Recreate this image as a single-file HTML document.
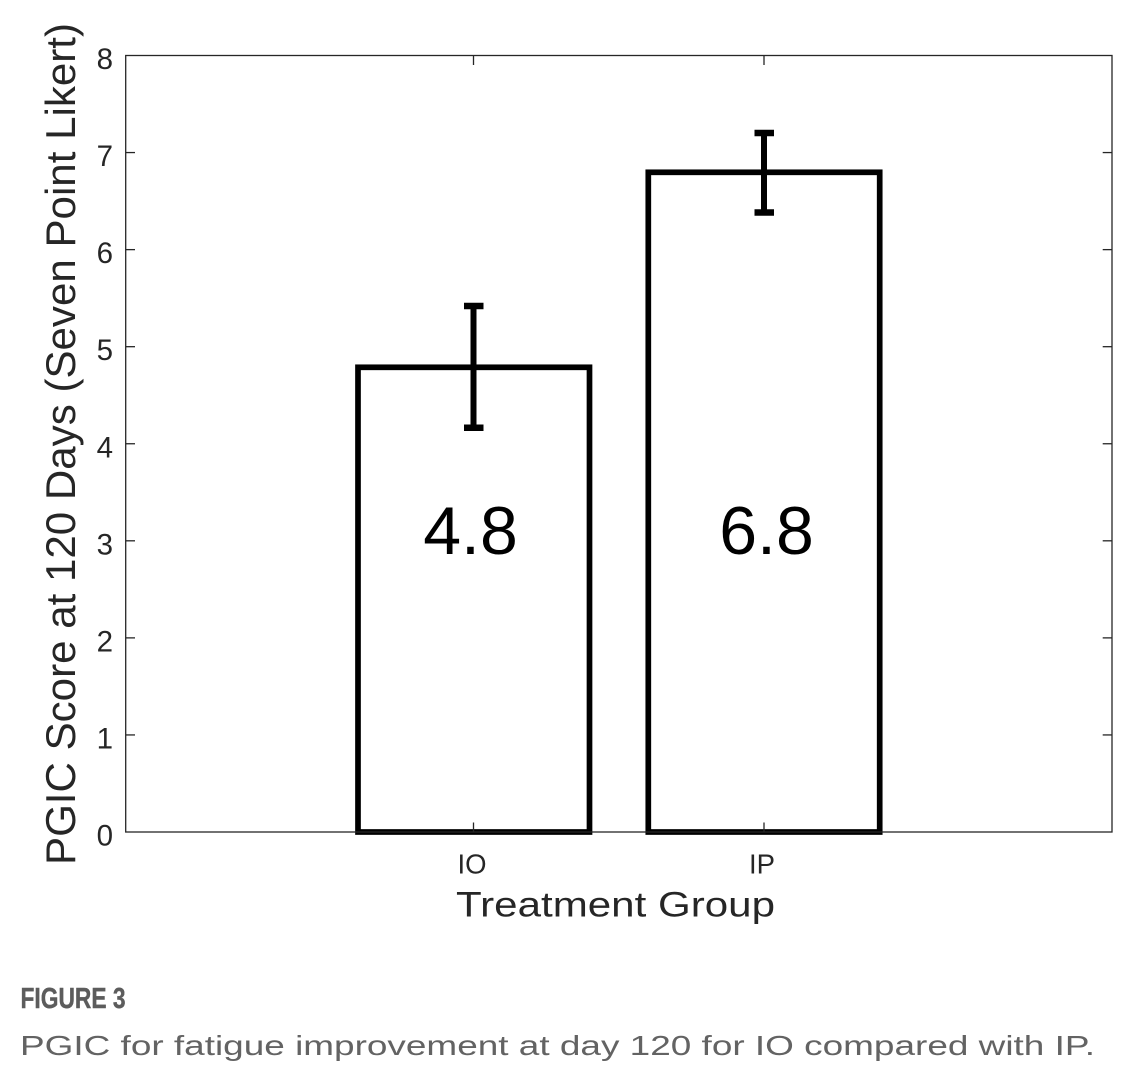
<!DOCTYPE html>
<html>
<head>
<meta charset="utf-8">
<style>
  html, body { margin: 0; padding: 0; background: #ffffff; }
  body { width: 1140px; height: 1084px; overflow: hidden; }
  svg { display: block; }
  text { font-family: "Liberation Sans", Arial, sans-serif; }
</style>
</head>
<body>
<svg width="1140" height="1084" viewBox="0 0 1140 1084" xmlns="http://www.w3.org/2000/svg">
  <rect x="0" y="0" width="1140" height="1084" fill="#ffffff"/>

  <!-- Bars -->
  <rect x="358" y="367.3" width="231.5" height="464.7" fill="#ffffff" stroke="#000000" stroke-width="5.7"/>
  <rect x="648.3" y="172.3" width="231.4" height="659.7" fill="#ffffff" stroke="#000000" stroke-width="5.7"/>

  <!-- Axes box -->
  <rect x="125.7" y="55.5" width="986.3" height="776.5" fill="none" stroke="#262626" stroke-width="1.3"/>

  <!-- Y ticks (left and right, inward) -->
  <g stroke="#262626" stroke-width="1.3">
    <line x1="125.7" y1="734.94" x2="135" y2="734.94"/>
    <line x1="125.7" y1="637.88" x2="135" y2="637.88"/>
    <line x1="125.7" y1="540.81" x2="135" y2="540.81"/>
    <line x1="125.7" y1="443.75" x2="135" y2="443.75"/>
    <line x1="125.7" y1="346.69" x2="135" y2="346.69"/>
    <line x1="125.7" y1="249.63" x2="135" y2="249.63"/>
    <line x1="125.7" y1="152.56" x2="135" y2="152.56"/>

    <line x1="1112" y1="734.94" x2="1102.7" y2="734.94"/>
    <line x1="1112" y1="637.88" x2="1102.7" y2="637.88"/>
    <line x1="1112" y1="540.81" x2="1102.7" y2="540.81"/>
    <line x1="1112" y1="443.75" x2="1102.7" y2="443.75"/>
    <line x1="1112" y1="346.69" x2="1102.7" y2="346.69"/>
    <line x1="1112" y1="249.63" x2="1102.7" y2="249.63"/>
    <line x1="1112" y1="152.56" x2="1102.7" y2="152.56"/>

    <!-- X ticks bottom & top -->
    <line x1="473.5" y1="832" x2="473.5" y2="822.5"/>
    <line x1="764" y1="832" x2="764" y2="822.5"/>
    <line x1="473.5" y1="55.5" x2="473.5" y2="65"/>
    <line x1="764" y1="55.5" x2="764" y2="65"/>
  </g>

  <!-- Error bars -->
  <g stroke="#000000" fill="none">
    <line x1="473.5" y1="306" x2="473.5" y2="427.7" stroke-width="6"/>
    <line x1="464" y1="306" x2="483.5" y2="306" stroke-width="6.5"/>
    <line x1="464" y1="427.7" x2="483.5" y2="427.7" stroke-width="6.5"/>

    <line x1="764" y1="133" x2="764" y2="212.5" stroke-width="6"/>
    <line x1="754.5" y1="133" x2="774" y2="133" stroke-width="6.5"/>
    <line x1="754.5" y1="212.5" x2="774" y2="212.5" stroke-width="6.5"/>
  </g>

  <!-- Bar value labels -->
  <text x="470.5" y="554" font-size="68" text-anchor="middle" fill="#000000">4.8</text>
  <text x="766.5" y="554" font-size="68" text-anchor="middle" fill="#000000">6.8</text>

  <!-- Y tick labels -->
  <g font-size="29.5" fill="#262626" text-anchor="end">
    <text x="113" y="845.5">0</text>
    <text x="113" y="748.4">1</text>
    <text x="113" y="651.4">2</text>
    <text x="113" y="554.3">3</text>
    <text x="113" y="457.3">4</text>
    <text x="113" y="360.2">5</text>
    <text x="113" y="263.1">6</text>
    <text x="113" y="166.1">7</text>
    <text x="113" y="69">8</text>
  </g>

  <!-- X tick labels -->
  <text x="472" y="873.3" font-size="27.5" text-anchor="middle" fill="#262626">IO</text>
  <text x="762" y="873.3" font-size="27.5" text-anchor="middle" fill="#262626">IP</text>

  <!-- X axis label -->
  <text x="456" y="916.7" font-size="35" fill="#262626" textLength="319" lengthAdjust="spacingAndGlyphs">Treatment Group</text>

  <!-- Y axis label -->
  <text transform="translate(75,865) rotate(-90)" x="0" y="0" font-size="42" fill="#262626" textLength="842" lengthAdjust="spacingAndGlyphs">PGIC Score at 120 Days (Seven Point Likert)</text>

  <!-- Caption -->
  <text x="20.5" y="1008" font-size="29" font-weight="bold" fill="#5c5c5c" stroke="#5c5c5c" stroke-width="0.4" textLength="105" lengthAdjust="spacingAndGlyphs">FIGURE 3</text>
  <text x="20" y="1055" font-size="28" fill="#636363" textLength="1075" lengthAdjust="spacingAndGlyphs">PGIC for fatigue improvement at day 120 for IO compared with IP.</text>
</svg>
</body>
</html>
